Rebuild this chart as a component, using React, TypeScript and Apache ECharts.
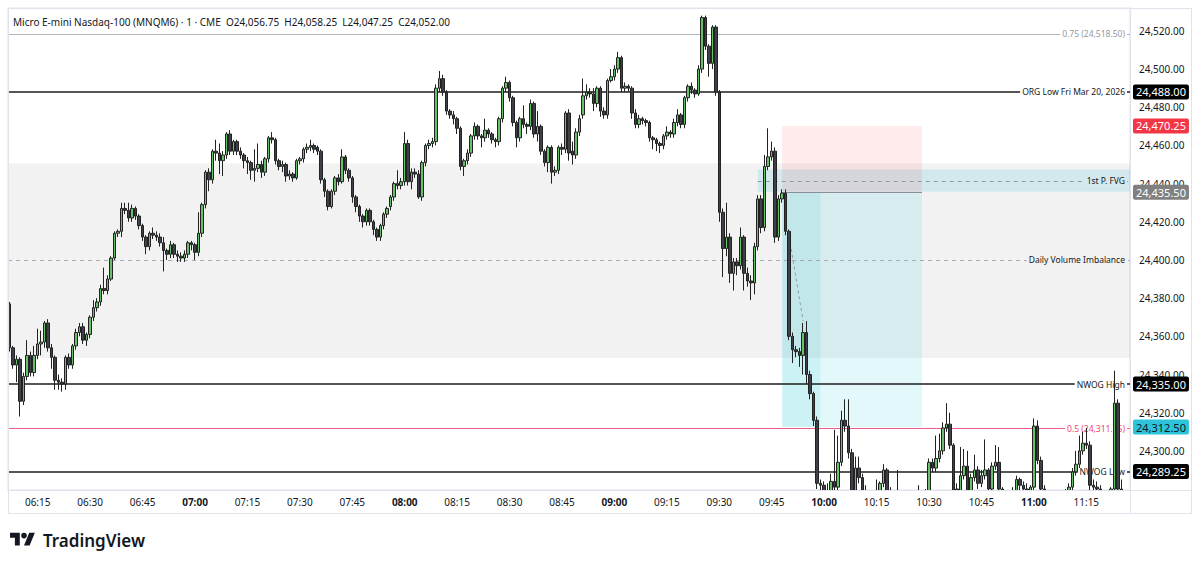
import { useEffect, useRef } from 'react';
import * as echarts from 'echarts';

const FONT = "'Noto Sans', 'Open Sans', sans-serif";
const FIRST_MINUTE = 6 * 60 + 7;
const SLOT_COUNT = 321;
const times: string[] = Array.from({ length: SLOT_COUNT }, (_, i) => {
  const m = FIRST_MINUTE + i;
  return String(Math.floor(m / 60)).padStart(2, '0') + ':' + String(m % 60).padStart(2, '0');
});
const timeTicks = ['06:15', '06:30', '06:45', '07:00', '07:15', '07:30', '07:45', '08:00', '08:15', '08:30', '08:45', '09:00', '09:15', '09:30', '09:45', '10:00', '10:15', '10:30', '10:45', '11:00', '11:15'];
const priceTicks = [24300, 24320, 24340, 24360, 24380, 24400, 24420, 24440, 24460, 24480, 24500, 24520];

// [open, close, low, high] per 1-minute bar, 06:07 onwards
const ohlc: number[][] = [
  [24377, 24354, 24352, 24378], [24354, 24345, 24343, 24355], [24345, 24348, 24336, 24350], [24348, 24326, 24318, 24349],
  [24326, 24339, 24324, 24341], [24339, 24350, 24337, 24358], [24350, 24341, 24339, 24352], [24341, 24350, 24339, 24355],
  [24350, 24356, 24348, 24364], [24356, 24357, 24350, 24363], [24357, 24367, 24354, 24368], [24367, 24354, 24352, 24369],
  [24354, 24349, 24343, 24356], [24349, 24337, 24332, 24350], [24337, 24336, 24332, 24340], [24336, 24335, 24331, 24338],
  [24335, 24349, 24332, 24350], [24349, 24345, 24343, 24351], [24345, 24355, 24343, 24356], [24355, 24362, 24353, 24364],
  [24362, 24365, 24360, 24367], [24365, 24358, 24356, 24367], [24358, 24361, 24355, 24362], [24361, 24370, 24359, 24371],
  [24370, 24375, 24368, 24379], [24375, 24378, 24373, 24380], [24378, 24385, 24376, 24387], [24385, 24384, 24382, 24396],
  [24384, 24390, 24382, 24392], [24390, 24401, 24389, 24402], [24401, 24414, 24400, 24415], [24414, 24415, 24412, 24416],
  [24415, 24427, 24412, 24430], [24427, 24426, 24424, 24430], [24426, 24422, 24420, 24430], [24422, 24427, 24420, 24429],
  [24427, 24423, 24421, 24428], [24423, 24418, 24416, 24424], [24418, 24412, 24410, 24419], [24412, 24407, 24403, 24413],
  [24407, 24414, 24405, 24415], [24414, 24413, 24411, 24417], [24413, 24412, 24410, 24415], [24412, 24409, 24407, 24414],
  [24409, 24405, 24394, 24412], [24405, 24403, 24400, 24406], [24403, 24408, 24401, 24410], [24408, 24403, 24401, 24409],
  [24403, 24402, 24399, 24405], [24402, 24401, 24399, 24404], [24401, 24403, 24399, 24405], [24403, 24409, 24401, 24410],
  [24409, 24408, 24405, 24410], [24408, 24404, 24400, 24409], [24404, 24414, 24402, 24425],
  [24414, 24429, 24412, 24430], [24429, 24446, 24427, 24447], [24446, 24442, 24436, 24448], [24442, 24457, 24440, 24458],
  [24457, 24456, 24452, 24463], [24456, 24452, 24445, 24461], [24452, 24455, 24444, 24457], [24455, 24466, 24453, 24467],
  [24466, 24457, 24455, 24468], [24457, 24462, 24455, 24463], [24462, 24457, 24455, 24463], [24457, 24455, 24453, 24459],
  [24455, 24452, 24448, 24456], [24452, 24451, 24445, 24454], [24451, 24447, 24442, 24452], [24447, 24448, 24441, 24458],
  [24448, 24450, 24446, 24461], [24450, 24446, 24443, 24452], [24446, 24453, 24444, 24454], [24453, 24464, 24451, 24465],
  [24464, 24463, 24461, 24467], [24463, 24452, 24450, 24464], [24452, 24449, 24447, 24453], [24449, 24450, 24446, 24452],
  [24450, 24444, 24441, 24451], [24444, 24445, 24442, 24447], [24445, 24443, 24441, 24446], [24443, 24452, 24442, 24453],
  [24452, 24453, 24450, 24454], [24453, 24458, 24451, 24459], [24458, 24459, 24456, 24461], [24459, 24460, 24457, 24463],
  [24460, 24458, 24456, 24461], [24459, 24457, 24455, 24460], [24457, 24442, 24440, 24458], [24442, 24436, 24433, 24443],
  [24436, 24428, 24426, 24437], [24428, 24436, 24427, 24437], [24436, 24443, 24434, 24444], [24443, 24441, 24439, 24445],
  [24441, 24454, 24440, 24458], [24454, 24447, 24445, 24455], [24447, 24443, 24441, 24448], [24443, 24433, 24430, 24444],
  [24433, 24428, 24425, 24434], [24428, 24423, 24420, 24429], [24423, 24420, 24417, 24424], [24420, 24426, 24418, 24427],
  [24426, 24420, 24418, 24427], [24420, 24416, 24413, 24421], [24416, 24412, 24410, 24417], [24412, 24418, 24410, 24419],
  [24418, 24424, 24416, 24425], [24424, 24427, 24422, 24428],
  [24428, 24433, 24426, 24434], [24433, 24440, 24431, 24441], [24440, 24439, 24437, 24447], [24439, 24441, 24437, 24443],
  [24441, 24461, 24439, 24467], [24461, 24441, 24439, 24463], [24441, 24446, 24437, 24448], [24446, 24445, 24443, 24448],
  [24445, 24433, 24432, 24447], [24433, 24451, 24431, 24452], [24451, 24460, 24449, 24461], [24460, 24461, 24458, 24463],
  [24461, 24462, 24459, 24464], [24462, 24490, 24460, 24492], [24490, 24495, 24488, 24499], [24495, 24488, 24486, 24497],
  [24488, 24478, 24476, 24489], [24478, 24476, 24474, 24479], [24476, 24474, 24471, 24478], [24474, 24469, 24466, 24475],
  [24469, 24449, 24447, 24470], [24449, 24452, 24444, 24453], [24452, 24456, 24450, 24458], [24456, 24465, 24454, 24466],
  [24465, 24470, 24463, 24472], [24470, 24465, 24463, 24471], [24465, 24464, 24459, 24466], [24464, 24468, 24462, 24474],
  [24468, 24466, 24464, 24469], [24466, 24463, 24461, 24467], [24463, 24462, 24459, 24464], [24462, 24474, 24460, 24475],
  [24474, 24490, 24472, 24491], [24490, 24493, 24488, 24496], [24493, 24485, 24483, 24494], [24485, 24472, 24470, 24486],
  [24472, 24464, 24459, 24473], [24464, 24474, 24462, 24475], [24474, 24471, 24469, 24481], [24471, 24470, 24466, 24472],
  [24470, 24482, 24468, 24484], [24482, 24466, 24464, 24483], [24466, 24470, 24462, 24478], [24470, 24457, 24455, 24471],
  [24457, 24451, 24449, 24458], [24451, 24459, 24446, 24460], [24459, 24446, 24440, 24460], [24446, 24447, 24444, 24449],
  [24447, 24459, 24445, 24460], [24459, 24458, 24455, 24461], [24458, 24477, 24456, 24478], [24477, 24456, 24452, 24479],
  [24457, 24455, 24450, 24462], [24455, 24467, 24453, 24469], [24467, 24474, 24465, 24476],
  [24476, 24486, 24474, 24495], [24486, 24488, 24484, 24492], [24488, 24487, 24485, 24490], [24487, 24482, 24478, 24490],
  [24482, 24490, 24480, 24491], [24490, 24478, 24475, 24491], [24478, 24476, 24474, 24480], [24476, 24494, 24474, 24495],
  [24494, 24496, 24493, 24500], [24496, 24500, 24494, 24502], [24500, 24506, 24498, 24509], [24506, 24490, 24488, 24507],
  [24490, 24491, 24488, 24493], [24491, 24490, 24488, 24492], [24490, 24477, 24474, 24491], [24477, 24471, 24469, 24479],
  [24471, 24474, 24469, 24476], [24474, 24473, 24471, 24475], [24473, 24472, 24470, 24474], [24472, 24464, 24462, 24473],
  [24464, 24463, 24458, 24465], [24463, 24461, 24457, 24464], [24461, 24460, 24456, 24462], [24460, 24465, 24458, 24466],
  [24465, 24467, 24463, 24470], [24467, 24466, 24464, 24468], [24466, 24472, 24464, 24474], [24472, 24476, 24470, 24479],
  [24476, 24471, 24469, 24477], [24471, 24485, 24469, 24486], [24485, 24491, 24483, 24492], [24491, 24489, 24487, 24493],
  [24489, 24487, 24485, 24490], [24487, 24500, 24486, 24502], [24500, 24527, 24498, 24528], [24527, 24512, 24510, 24528],
  [24512, 24503, 24496, 24513], [24503, 24522, 24500, 24523], [24522, 24488, 24486, 24523], [24488, 24425, 24420, 24489],
  [24425, 24406, 24391, 24427], [24406, 24412, 24402, 24430], [24412, 24393, 24388, 24414], [24393, 24399, 24384, 24401],
  [24399, 24397, 24392, 24401], [24397, 24412, 24395, 24417], [24412, 24393, 24384, 24413], [24393, 24389, 24386, 24396],
  [24389, 24388, 24379, 24392], [24388, 24407, 24382, 24409], [24407, 24432, 24405, 24434], [24432, 24417, 24414, 24434],
  [24417, 24449, 24415, 24455],
  [24449, 24454, 24447, 24469], [24454, 24457, 24452, 24462], [24457, 24412, 24409, 24459], [24412, 24432, 24410, 24434],
  [24432, 24435, 24430, 24437], [24435, 24415, 24413, 24437], [24415, 24360, 24358, 24416], [24360, 24353, 24346, 24362],
  [24353, 24352, 24349, 24355], [24352, 24350, 24344, 24354], [24350, 24362, 24340, 24367], [24362, 24340, 24335, 24368],
  [24340, 24330, 24327, 24342], [24330, 24316, 24313, 24331], [24316, 24283, 24280, 24318], [24283, 24282, 24276, 24285],
  [24282, 24276, 24270, 24284], [24276, 24274, 24268, 24283], [24274, 24284, 24271, 24288], [24284, 24281, 24276, 24311],
  [24281, 24294, 24279, 24308], [24294, 24316, 24292, 24321], [24316, 24313, 24310, 24327], [24313, 24299, 24296, 24327],
  [24299, 24278, 24270, 24301], [24278, 24291, 24276, 24297], [24291, 24286, 24283, 24297], [24286, 24276, 24272, 24288],
  [24276, 24272, 24266, 24282], [24272, 24270, 24265, 24276], [24270, 24268, 24263, 24274], [24268, 24272, 24264, 24285],
  [24272, 24283, 24270, 24284], [24283, 24290, 24281, 24293], [24290, 24276, 24272, 24291], [24276, 24274, 24270, 24281],
  [24274, 24272, 24268, 24277], [24272, 24270, 24266, 24290], [24270, 24268, 24264, 24274], [24268, 24270, 24265, 24273],
  [24270, 24267, 24263, 24272], [24267, 24269, 24264, 24275], [24269, 24271, 24266, 24276], [24271, 24274, 24268, 24282],
  [24274, 24276, 24271, 24279], [24276, 24279, 24273, 24280], [24279, 24294, 24277, 24296], [24294, 24291, 24289, 24296],
  [24291, 24296, 24289, 24308], [24296, 24300, 24294, 24309], [24300, 24312, 24298, 24315], [24312, 24314, 24310, 24325],
  [24314, 24303, 24301, 24320], [24303, 24279, 24272, 24304], [24280, 24278, 24270, 24283], [24278, 24287, 24276, 24302],
  [24287, 24292, 24285, 24301], [24292, 24278, 24272, 24300], [24278, 24286, 24276, 24288], [24286, 24290, 24284, 24298],
  [24290, 24283, 24280, 24292], [24283, 24287, 24281, 24290], [24287, 24290, 24285, 24306], [24290, 24280, 24276, 24291],
  [24280, 24292, 24278, 24294], [24292, 24294, 24290, 24303], [24294, 24280, 24276, 24302], [24280, 24277, 24273, 24281],
  [24277, 24274, 24270, 24279], [24274, 24276, 24272, 24278], [24276, 24279, 24273, 24281], [24279, 24285, 24277, 24287],
  [24285, 24282, 24278, 24286], [24282, 24280, 24277, 24284], [24280, 24279, 24275, 24283], [24279, 24281, 24275, 24282],
  [24281, 24313, 24279, 24317], [24313, 24295, 24293, 24316], [24295, 24280, 24276, 24297], [24280, 24276, 24272, 24282],
  [24276, 24273, 24269, 24279], [24273, 24275, 24270, 24278], [24275, 24272, 24268, 24277], [24272, 24274, 24269, 24276],
  [24274, 24276, 24271, 24279], [24276, 24278, 24273, 24280], [24278, 24281, 24275, 24283], [24281, 24289, 24279, 24291],
  [24289, 24293, 24287, 24300], [24293, 24300, 24291, 24308], [24300, 24304, 24298, 24310], [24304, 24303, 24301, 24312],
  [24303, 24282, 24279, 24305], [24282, 24281, 24276, 24285], [24281, 24280, 24275, 24284], [24280, 24277, 24272, 24282],
  [24277, 24274, 24270, 24279], [24274, 24276, 24271, 24278], [24276, 24280, 24273, 24281], [24280, 24325, 24278, 24342],
  [24325, 24280, 24276, 24327], [24280, 24276, 24268, 24285],
];

const titleText = 'Micro E-mini Nasdaq-100 (MNQM6) · 1 · CME  O24,056.75  H24,058.25  L24,047.25  C24,052.00';
const levelNames = ['0.75 (24,518.50)', 'ORG Low Fri Mar 20, 2026', 'Daily Volume Imbalance', '1st P. FVG', 'NWOG High', '0.5 (24,311.75)', 'NWOG Low'];
const levelValues = [24518.5, 24488, 24400, 24441.5, 24335, 24311.75, 24289.25];
const volumeImbalanceZone = [24450.7, 24348.7];
const fvgZone = [24447.4, 24435.7];
const fvgStart = '09:41';
const positionTimes = ['09:48', '09:59', '10:28'];
const positionPrices = [24470.25, 24435.5, 24312.5];
const pathGuide = [['09:50', 24412], ['09:54', 24368]];
const tagValues = [24488, 24470.25, 24435.5, 24335, 24312.5, 24289.25];

const fmt = (v: number) => v.toLocaleString('en-US', { minimumFractionDigits: 2, maximumFractionDigits: 2 });

const LOGO_D = 'M14 22H7V11H0V4h14v18zM28 22h-8l7.5-18h8L28 22zM24 8a4 4 0 1 1-8 0a4 4 0 1 1 8 0z';
let logoRegistered = false;

export default function App() {
  const ref = useRef<HTMLDivElement>(null);
  useEffect(() => {
    if (!logoRegistered) {
      echarts.graphic.registerShape('tvlogo', echarts.graphic.extendPath(LOGO_D, {}) as any);
      logoRegistered = true;
    }
    const chart = echarts.init(ref.current as HTMLDivElement, null, { renderer: 'svg' });
    const option: any = {
      animation: false,
      backgroundColor: '#ffffff',
      grid: { left: 8, right: 70, top: 8, bottom: 75, show: true, borderColor: '#e0e3eb', borderWidth: 1, backgroundColor: 'transparent' },
      xAxis: {
        type: 'category',
        data: times,
        boundaryGap: true,
        z: 7,
        axisLine: { show: true, lineStyle: { color: '#e0e3eb' } },
        axisTick: { show: false },
        splitLine: { show: false },
        axisLabel: {
          interval: (_i: number, v: string) => timeTicks.includes(v),
          formatter: (v: string) => (v.endsWith(':00') ? `{b|${v}}` : v),
          color: '#131722',
          fontSize: 10,
          fontFamily: FONT,
          margin: 7,
          rich: { b: { fontWeight: 'bold', fontSize: 10, fontFamily: FONT, color: '#131722' } },
        },
      },
      yAxis: {
        type: 'value',
        position: 'right',
        min: 24279.5,
        max: 24532,
        axisLine: { show: true, lineStyle: { color: '#e0e3eb' } },
        axisTick: { show: false },
        splitLine: { show: false },
        axisLabel: { customValues: priceTicks, formatter: (v: number) => fmt(v), color: '#131722', fontSize: 10, fontFamily: FONT, margin: 9 },
      },
      series: [
        {
          type: 'candlestick',
          data: ohlc,
          z: 4,
          clip: true,
          barWidth: 3,
          itemStyle: { color: '#66c16a', color0: '#3d4048', borderColor: '#222222', borderColor0: '#222222', borderWidth: 1 },
          markArea: {
            z: 1,
            silent: true,
            data: [
              [{ yAxis: volumeImbalanceZone[0], itemStyle: { color: 'rgba(0,0,0,0.05)' } }, { yAxis: volumeImbalanceZone[1] }],
              [{ xAxis: fvgStart, yAxis: fvgZone[0], itemStyle: { color: 'rgba(0,170,200,0.13)' } }, { yAxis: fvgZone[1] }],
              [{ xAxis: positionTimes[0], yAxis: positionPrices[0], itemStyle: { color: 'rgba(242,54,69,0.1)' } }, { xAxis: positionTimes[2], yAxis: positionPrices[1] }],
              [{ xAxis: positionTimes[0], yAxis: positionPrices[1], itemStyle: { color: 'rgba(0,188,212,0.2)' } }, { xAxis: positionTimes[1], yAxis: positionPrices[2] }],
              [{ xAxis: positionTimes[1], yAxis: positionPrices[1], itemStyle: { color: 'rgba(0,188,212,0.11)' } }, { xAxis: positionTimes[2], yAxis: positionPrices[2] }],
            ],
          },
          markLine: {
            z: 2,
            silent: true,
            symbol: ['none', 'none'],
            label: { show: false },
            data: [
              { yAxis: levelValues[0], lineStyle: { color: '#b2b5be', width: 1, type: 'solid' } },
              { yAxis: levelValues[1], lineStyle: { color: '#1e1e1e', width: 1.5, type: 'solid' } },
              { yAxis: levelValues[2], lineStyle: { color: '#a9abb2', width: 1, type: [4, 4] } },
              [{ coord: [fvgStart, levelValues[3]], lineStyle: { color: '#8f9aa3', width: 1, type: [4, 4] } }, { coord: [times[SLOT_COUNT - 1], levelValues[3]] }],
              { yAxis: levelValues[4], lineStyle: { color: '#1e1e1e', width: 1.5, type: 'solid' } },
              { yAxis: levelValues[5], lineStyle: { color: '#ef5b8a', width: 1, type: 'solid' } },
              { yAxis: levelValues[6], lineStyle: { color: '#1e1e1e', width: 1.5, type: 'solid' } },
              [{ coord: [positionTimes[0], positionPrices[1]], lineStyle: { color: '#8a8d96', width: 1, type: 'solid' } }, { coord: [positionTimes[2], positionPrices[1]] }],
              [{ coord: pathGuide[0], lineStyle: { color: '#9598a1', width: 1, type: [3, 3] } }, { coord: pathGuide[1] }],
            ],
          },
        },
      ],
    };
    chart.setOption(option);

    const gy = (v: number) => chart.convertToPixel({ yAxisIndex: 0 }, v) as number;
    const levelColors = ['#9598a1', '#131722', '#131722', '#131722', '#131722', '#ef3f78', '#131722'];
    const levelBgs = ['#ffffff', '#ffffff', '#f2f2f2', '#d3e9ed', '#ffffff', '#ffffff', '#ffffff'];
    const tagBgs = ['#000000', '#f23645', '#808080', '#000000', '#2cc3db', '#000000'];
    const tagFg = ['#ffffff', '#ffffff', '#ffffff', '#ffffff', '#131722', '#ffffff'];

    const graphics: any[] = [];
    // hides the parts of bars that fall below the pane's lower edge
    graphics.push({ type: 'rect', z: 5, silent: true, shape: { x: 9, y: 490.5, width: 1121, height: 38 }, style: { fill: '#ffffff' } });
    levelNames.forEach((name, i) => {
      graphics.push({
        type: 'text', x: 1127, y: gy(levelValues[i]), z: 3, silent: true,
        style: { text: name, fill: levelColors[i], font: `8.5px ${FONT}`, align: 'right', verticalAlign: 'middle', backgroundColor: levelBgs[i], padding: [1, 2] },
      });
    });
    tagValues.forEach((v, i) => {
      graphics.push({
        type: 'text', x: 1133, y: gy(v), z: 6, silent: true,
        style: { text: fmt(v), fill: tagFg[i], font: `11px ${FONT}`, align: 'left', verticalAlign: 'middle', backgroundColor: tagBgs[i], padding: [2, 3], borderRadius: 2 },
      });
    });
    graphics.push({ type: 'text', x: 13, y: 22, z: 6, silent: true, style: { text: titleText, fill: '#131722', font: `10px ${FONT}`, verticalAlign: 'middle' } });
    graphics.push({ type: 'line', z: 6, silent: true, shape: { x1: 1130, y1: 490.5, x2: 1192, y2: 490.5 }, style: { stroke: '#e0e3eb', lineWidth: 1 } });
    graphics.push({ type: 'line', z: 6, silent: true, shape: { x1: 8, y1: 8.5, x2: 1192, y2: 8.5 }, style: { stroke: '#e0e3eb', lineWidth: 1 } });
    graphics.push({ type: 'line', z: 6, silent: true, shape: { x1: 1191.5, y1: 8, x2: 1191.5, y2: 514 }, style: { stroke: '#e0e3eb', lineWidth: 1 } });
    graphics.push({ type: 'line', z: 6, silent: true, shape: { x1: 8, y1: 513.5, x2: 1192, y2: 513.5 }, style: { stroke: '#e0e3eb', lineWidth: 1 } });
    graphics.push({ type: 'line', z: 6, silent: true, shape: { x1: 8.5, y1: 8, x2: 8.5, y2: 514 }, style: { stroke: '#e0e3eb', lineWidth: 1 } });
    graphics.push({ type: 'line', z: 6, silent: true, shape: { x1: 1130.5, y1: 490, x2: 1130.5, y2: 514 }, style: { stroke: '#e0e3eb', lineWidth: 1 } });
    graphics.push({ type: 'tvlogo', x: 10, y: 530, scaleX: 0.7, scaleY: 0.7, z: 6, silent: true, style: { fill: '#131722' } });
    graphics.push({ type: 'text', x: 43, y: 540, z: 6, silent: true, style: { text: 'TradingView', fill: '#131722', font: `600 17px ${FONT}`, verticalAlign: 'middle' } });

    chart.setOption({ graphic: graphics });
    return () => chart.dispose();
  }, []);
  return <div ref={ref} style={{ position: 'fixed', left: 0, top: 0, width: 1200, height: 565, background: '#ffffff' }} />;
}
